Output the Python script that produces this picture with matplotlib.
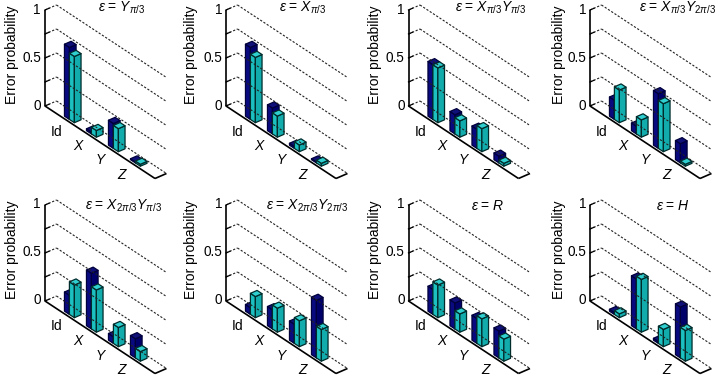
import numpy as np
import matplotlib
matplotlib.use('Agg')
import matplotlib.pyplot as plt
from matplotlib.patches import Polygon

plt.rcParams['font.family'] = ['Liberation Sans', 'DejaVu Sans']
plt.rcParams['mathtext.fontset'] = 'custom'
plt.rcParams['mathtext.rm'] = 'Liberation Sans'
plt.rcParams['mathtext.it'] = 'Liberation Sans:italic'
plt.rcParams['mathtext.fallback'] = 'stix'

# data
categories = ['Id', '$X$', '$Y$', '$Z$']
titles = [r'$\varepsilon$ = $Y_{\pi/3}$', r'$\varepsilon$ = $X_{\pi/3}$',
          r'$\varepsilon$ = $X_{\pi/3}Y_{\pi/3}$', r'$\varepsilon$ = $X_{\pi/3}Y_{2\pi/3}$',
          r'$\varepsilon$ = $X_{2\pi/3}Y_{\pi/3}$', r'$\varepsilon$ = $X_{2\pi/3}Y_{2\pi/3}$',
          r'$\varepsilon$ = $R$', r'$\varepsilon$ = $H$']
dark_vals = [[.75, .02, .26, .01], [.75, .27, .02, .01], [.57, .20, .20, .07], [.20, .08, .57, .20],
             [.20, .58, .07, .20], [.07, .20, .20, .60], [.26, .27, .26, .28], [.02, .52, .02, .53]]
cyan_vals = [[.69, .07, .24, .02], [.68, .22, .07, .03], [.57, .17, .24, .03], [.34, .18, .50, .02],
             [.34, .44, .20, .10], [.22, .25, .27, .33], [.34, .19, .29, .23], [.04, .55, .18, .32]]

# pixel positions of each panels origin (axis foot)
col_x = [45, 226, 408.5, 590]
row_y = [106, 301]
title_x = [77, 77, 82, 87, 78, 81.5, 79, 83]
title_y = [98, 95]
ylabel_x = [-33, -34.5, -33.5, -30.5]

U = np.array([110, -72.5])
V = np.array([11.5, 5])
Z = np.array([0, 96])
W = 0.045  # bar width along u
V0, V1 = 0.21, 0.79

DARK = ('#0a0a80', '#00006a', '#10107a')
CYAN = ('#1cc0c0', '#12acac', '#30d0d0')


def proj(u, v, z):
    return tuple(u * U + v * V + z * Z)


def draw_bar(ax, u0, h, cols, edge):
    u1 = u0 + W
    faces = [([(u0, V0, 0), (u1, V0, 0), (u1, V0, h), (u0, V0, h)], cols[0]),
             ([(u1, V0, 0), (u1, V1, 0), (u1, V1, h), (u1, V0, h)], cols[1]),
             ([(u0, V0, h), (u1, V0, h), (u1, V1, h), (u0, V1, h)], cols[2])]
    for pts, c in faces:
        ax.add_patch(Polygon([proj(*p) for p in pts], closed=True, fc=c, ec=edge, lw=0.9, joinstyle='round'))


def draw_panel(ax, title, tx, ty, lx, dark, cyan):
    for lev in [0, .25, .5, .75, 1]:
        a, b, c = proj(0, 0, lev), proj(0, 1, lev), proj(1, 1, lev)
        ax.plot([a[0], b[0]], [a[1], b[1]], color='#222222', lw=0.8, ls=(0, (2, 1.5)))
        ax.plot([b[0], c[0]], [b[1], c[1]], color='#222222', lw=0.8, ls=(0, (2, 1.5)))
        d = proj(0, 0.35, lev)
        ax.plot([a[0], d[0]], [a[1], d[1]], color='k', lw=0.9)
    # solid axes
    for p, q in [((0, 0, 0), (0, 0, 1)), ((0, 0, 0), (1, 0, 0)), ((1, 0, 0), (1, 1, 0))]:
        a, b = proj(*p), proj(*q)
        ax.plot([a[0], b[0]], [a[1], b[1]], color='k', lw=1.2, solid_capstyle='butt')
    for lev, lab in [(0, '0'), (.5, '0.5'), (1, '1')]:
        x, y = proj(0, 0, lev)
        ax.text(x - 4, y + 0.5, lab, ha='right', va='center', fontsize=9.8)
    for i, name in enumerate(categories):
        c = (i + 1) / 5
        draw_bar(ax, c - W, dark[i], DARK, '#00003c')
        draw_bar(ax, c, cyan[i], CYAN, '#002c2c')
        x, y = proj(c, 0, 0)
        ax.text(x - 10, y - 11, name, ha='center', va='center', fontsize=10)
    ax.text(lx, 51, 'Error probability', rotation=90, ha='center', va='center', fontsize=10)
    ax.text(tx, ty, title, ha='center', va='center', fontsize=10)


fig = plt.figure(figsize=(7.27, 3.79), dpi=100)
for k in range(8):
    x0 = col_x[k % 4]
    y0 = row_y[k // 4]
    ax = fig.add_axes([(x0 - 45) / 727, (379 - y0 - 85) / 379, 182 / 727, 190 / 379])
    ax.set_xlim(-45, 137)
    ax.set_ylim(-85, 105)
    ax.axis('off')
    draw_panel(ax, titles[k], title_x[k], title_y[k // 4], ylabel_x[k % 4], dark_vals[k], cyan_vals[k])

fig.savefig('out.png', dpi=100)
